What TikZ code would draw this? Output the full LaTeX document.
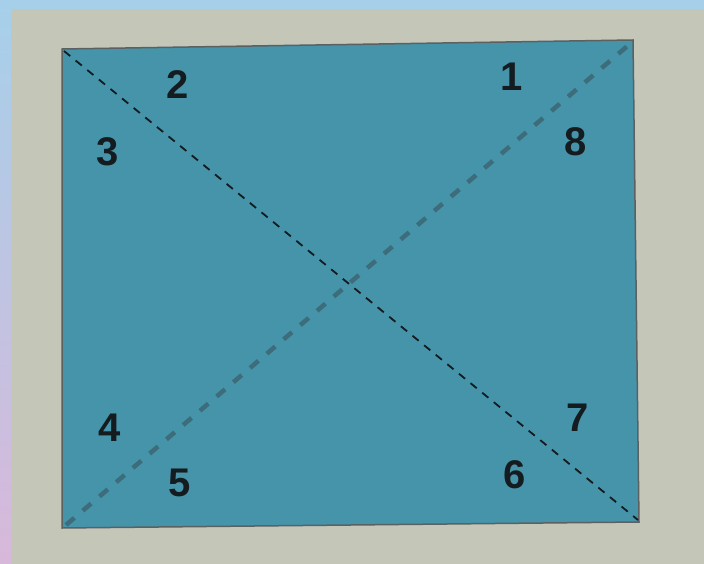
\documentclass[tikz,border=0pt]{standalone}
\usepackage{fontspec}
\setmainfont{Liberation Sans}
\definecolor{paper}{HTML}{C4C6B8}
\definecolor{teal}{HTML}{4594AA}
\definecolor{skyA}{HTML}{A6D0EA}
\definecolor{skyB}{HTML}{D8B8DA}
\definecolor{grayline}{HTML}{3D6D7A}
\definecolor{ink}{HTML}{151C20}
\tikzset{
  num/.style={font=\fontsize{40}{40}\selectfont\bfseries, text=ink, inner sep=0pt},
  blackdash/.style={draw=ink, line width=1.8pt, dash pattern=on 8pt off 7pt},
  graydash/.style={draw=grayline, line width=4.5pt, dash pattern=on 11pt off 11pt},
}
\begin{document}
\begin{tikzpicture}[x=1pt,y=-1pt]
\useasboundingbox (0,0) rectangle (704,564);
% backdrop
\shade[top color=skyA, bottom color=skyB] (0,0) rectangle (704,564);
\fill[skyA] (0,0) rectangle (704,9);
\fill[paper] (11,9) rectangle (704,564);
% square corners
\coordinate (TL) at (62,49);
\coordinate (TR) at (633,40);
\coordinate (BR) at (639,522);
\coordinate (BL) at (62,528);
\fill[teal] (TL) -- (TR) -- (BR) -- (BL) -- cycle;
\draw[ink!70, line width=1.5pt] (TL) -- (TR) -- (BR) -- (BL) -- cycle;
% diagonals
\coordinate (d1a) at (64,51);
\coordinate (d1b) at (638,520);
\coordinate (d2a) at (66,525);
\coordinate (d2b) at (631,43);
\draw[graydash] (d2a) -- (d2b);
\draw[blackdash] (d1a) -- (d1b);
% labels
\node[num] (n1) at (512,77) {1};
\node[num] (n2) at (178,85) {2};
\node[num] (n3) at (108,152) {3};
\node[num] (n4) at (110,428) {4};
\node[num] (n5) at (180,483) {5};
\node[num] (n6) at (515,475) {6};
\node[num] (n7) at (578,418) {7};
\node[num] (n8) at (576,142) {8};
\end{tikzpicture}
\end{document}
